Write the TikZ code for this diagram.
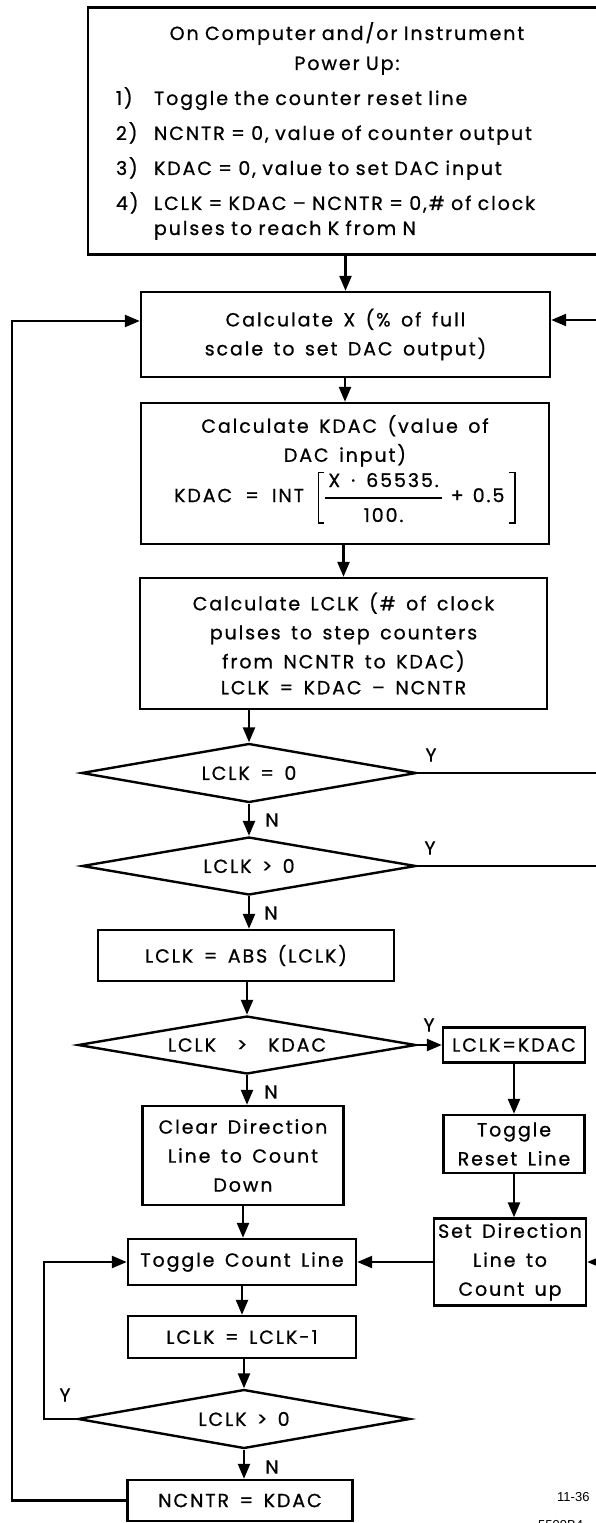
\documentclass[tikz,border=0pt]{standalone}
\usepackage{fontspec}
\setmainfont{Poppins}[LetterSpace=10, WordSpace=1.5, FakeBold=0.8]
\newfontfamily\tagfont{Liberation Sans}
\usetikzlibrary{shapes.geometric, arrows.meta}
\tikzset{
	procbox/.style={draw, rectangle, inner sep=0pt, align=center, font=\fontsize{19}{29}\selectfont}
}
\tikzset{
	decision/.style={draw, diamond, aspect=5.7, inner sep=0pt, font=\fontsize{19}{22}\selectfont}
}
\tikzset{
	ynlabel/.style={inner sep=0pt, font=\fontsize{19}{22}\selectfont}
}
\tikzset{
	flowline/.style={-{Triangle[length=15pt,width=12pt]}}
}
% fraction and square brackets of the KDAC formula
\newcommand{\kdacfrac}{%
  {\setlength{\arrayrulewidth}{1.6pt}\renewcommand{\arraystretch}{1.15}%
   \begin{tabular}{@{\hspace{3pt}}c@{\hspace{3pt}}}X\hspace{11pt}·\hspace{11pt}65535.\\\hline 100.\end{tabular}}}
\newcommand{\lsq}{$\vcenter{\hbox{\vrule width 1.4pt height 26pt depth 26pt%
  \lower26pt\vbox to 52pt{\hrule width 5pt height 1.4pt\vfill\hrule width 5pt height 1.4pt}}}$}
\newcommand{\rsq}{$\vcenter{\hbox{\lower26pt\vbox to 52pt{\hrule width 5pt height 1.4pt\vfill
  \hrule width 5pt height 1.4pt}\vrule width 1.4pt height 26pt depth 26pt}}$}

\begin{document}
\begin{tikzpicture}[x=1pt, y=-1pt, line width=2.4pt]
      \useasboundingbox (0,0) rectangle (596,1523);
      \clip (0,0) rectangle (596,1523);

      % power-up box, cut at the right edge of the sheet
      \node[procbox, align=left, text width=462pt, minimum width=518pt, minimum height=247pt,
            font=\fontsize{19}{35}\selectfont] (init) at (347,131) {%
        {\centering On Computer and/or Instrument\\[-5pt] Power Up:\par}
        \makebox[38pt][l]{1)}Toggle the counter reset line\\
        \makebox[38pt][l]{2)}NCNTR = 0, value of counter output\\
        \makebox[38pt][l]{3)}KDAC = 0, value to set DAC input\\
        \makebox[38pt][l]{4)}LCLK = KDAC -- NCNTR = 0,\# of clock\\[-10pt]
        \hspace*{38pt}pulses to reach K from N};

      % main column
      \node[procbox, minimum width=409pt, minimum height=85pt] (calcx) at (345.5,334.5)
        {Calculate X (\% of full\\ scale to set DAC output)};
      \node[procbox, minimum width=408pt, minimum height=141pt] (calckdac) at (345,473.5)
        {Calculate KDAC (value of\\ DAC input)\\[-4pt]
         KDAC\hspace{13pt}=\hspace{13pt}INT\hspace{14pt}\lsq\hspace{1pt}$\vcenter{\hbox{\kdacfrac}}$\hspace{9pt}+\hspace{9pt}0.5\hspace{5pt}\rsq};
      \node[procbox, minimum width=407pt, minimum height=131pt] (calclclk) at (343.5,643.5)
        {Calculate LCLK (\# of clock\\ pulses to step counters\\ from NCNTR to KDAC)\\[-3pt]
         LCLK = KDAC -- NCNTR};
      \node[decision, minimum width=335pt, minimum height=59pt] (dzero) at (249,773) {LCLK = 0};
      \node[decision, minimum width=334pt, minimum height=58pt] (dpos) at (249,866) {LCLK > 0};
      \node[procbox, minimum width=296pt, minimum height=51pt] (absbox) at (246,955.5) {LCLK = ABS (LCLK)};
      \node[decision, minimum width=338pt, minimum height=58pt] (dkdac) at (247,1045) {LCLK \ > \ KDAC};
      \node[procbox, minimum width=201pt, minimum height=99pt] (cleardir) at (243,1155.5)
        {Clear Direction\\ Line to Count\\ Down};
      \node[procbox, minimum width=228pt, minimum height=46pt] (togcount) at (242,1262) {Toggle Count Line};
      \node[procbox, minimum width=228pt, minimum height=42pt] (dec) at (242,1337) {LCLK = LCLK-1};
      \node[decision, minimum width=332pt, minimum height=59pt] (dloop) at (244,1419) {LCLK > 0};
      \node[procbox, minimum width=225pt, minimum height=41pt] (ncntr) at (240,1500.5) {NCNTR = KDAC};

      % count-up branch
      \node[procbox, minimum width=142pt, minimum height=35pt] (setk) at (514,1045) {LCLK=KDAC};
      \node[procbox, minimum width=141pt, minimum height=58pt] (togreset) at (514,1144) {Toggle\\ Reset Line};
      \node[procbox, minimum width=152pt, minimum height=87pt] (setdir) at (510,1262)
        {Set Direction\\ Line to\\ Count up};

      % ends of lines that run off the sheet
      \coordinate (rtop) at (600,320);
      \coordinate (rzero) at (600,773);
      \coordinate (rpos) at (600,866);
      \coordinate (rset) at (600,1262);
      \coordinate (loopx) at (44,1419);
      \coordinate (backx) at (12,321);

      \draw[flowline] (init.south -| calcx.north) -- (calcx.north);
      \draw[flowline] (calckdac.north |- calcx.south) -- (calckdac.north);
      \draw[flowline] (calclclk.north |- calckdac.south) -- (calclclk.north);
      \draw[flowline] (dzero.north |- calclclk.south) -- (dzero.north);
      \draw[flowline] (dzero.south) -- (dpos.north);
      \draw[flowline] (dpos.south) -- (dpos.south |- absbox.north);
      \draw[flowline] (dkdac.north |- absbox.south) -- (dkdac.north);
      \draw[flowline] (dkdac.south) -- (dkdac.south |- cleardir.north);
      \draw[flowline] (cleardir.south) -- (cleardir.south |- togcount.north);
      \draw[flowline] (togcount.south) -- (dec.north);
      \draw[flowline] (dloop.north |- dec.south) -- (dloop.north);
      \draw[flowline] (dloop.south) -- (dloop.south |- ncntr.north);
      \draw[flowline] (dkdac.east) -- (setk.west);
      \draw[flowline] (setk.south) -- (setk.south |- togreset.north);
      \draw[flowline] (togreset.south) -- (togreset.south |- setdir.north);
      \draw[flowline] (setdir.west) -- (togcount.east);
      \draw (dzero.east) -- (rzero);
      \draw (dpos.east) -- (rpos);
      \draw[flowline] (rtop) -- (rtop -| calcx.east);
      \draw[flowline] (rset) -- (setdir.east);
      \draw[flowline] (dloop.west) -- (loopx) |- (togcount.west);
      \draw[flowline] (ncntr.west) -| (backx) -- (backx -| calcx.west);

      % branch labels
      \node[ynlabel] (yzero) at (431,755) {Y};
      \node[ynlabel] (nzero) at (272,820) {N};
      \node[ynlabel] (ypos) at (430,848) {Y};
      \node[ynlabel] (npos) at (271,913) {N};
      \node[ynlabel] (ykdac) at (429,1025) {Y};
      \node[ynlabel] (nkdac) at (271,1092) {N};
      \node[ynlabel] (yloop) at (65,1395) {Y};
      \node[ynlabel] (nloop) at (272,1467) {N};

      \node[anchor=west, inner sep=0pt, font=\tagfont\fontsize{13}{15}\selectfont] (figno) at (556,1497) {11-36};
      \node[anchor=west, inner sep=0pt, font=\tagfont\fontsize{13}{15}\selectfont] (negno) at (537,1525) {5599B4};
    \end{tikzpicture}
\end{document}
